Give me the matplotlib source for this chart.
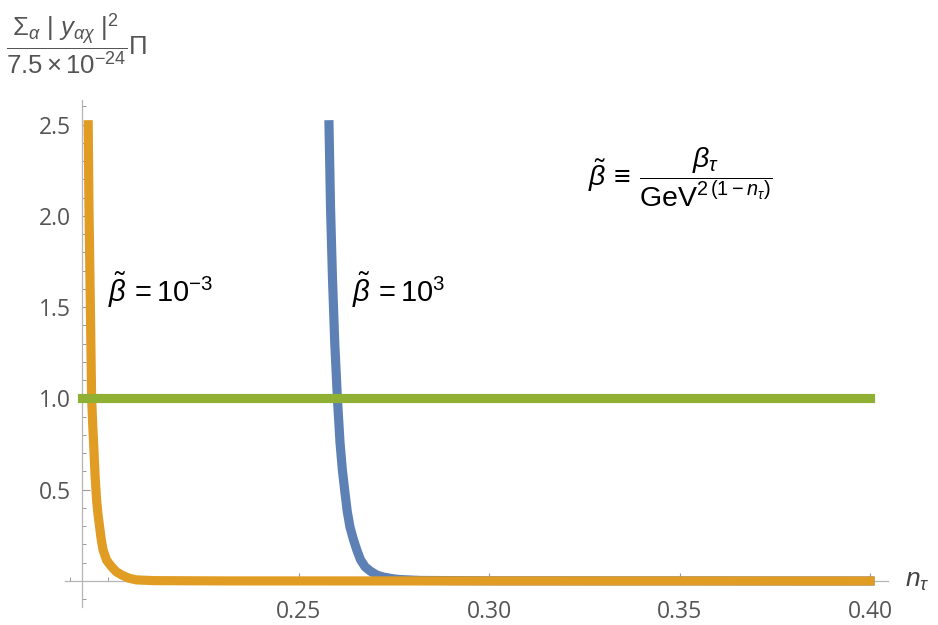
import numpy as np
import matplotlib
matplotlib.use('Agg')
import matplotlib.pyplot as plt

# values
n_blue = [0.2580, 0.2584, 0.2589, 0.2595, 0.2602, 0.2609, 0.2615, 0.2622, 0.2628, 0.2635,
          0.2644, 0.2653, 0.2663, 0.2675, 0.2688, 0.2705, 0.2722, 0.2748, 0.2766,
          0.2819, 0.3000, 0.4000]
y_blue = [2.50, 2.05, 1.667, 1.31, 1.003, 0.756, 0.610, 0.482, 0.380, 0.296,
          0.228, 0.170, 0.115, 0.077, 0.055, 0.033, 0.022, 0.012, 0.008,
          0.003, 0.001, 0.0]

n_orange = [0.1948, 0.1950, 0.1953, 0.1957, 0.1960, 0.1963, 0.1966, 0.1970, 0.1974, 0.1978,
            0.1982, 0.1987, 0.1996, 0.2003, 0.2010, 0.2022, 0.2036, 0.2055, 0.2075,
            0.2120, 0.2300, 0.4000]
y_orange = [2.50, 2.05, 1.60, 1.0, 0.85, 0.72, 0.58, 0.444, 0.36, 0.296,
            0.23, 0.170, 0.115, 0.095, 0.077, 0.050, 0.033, 0.015, 0.006,
            0.002, 0.0005, 0.0]

n_green = [0.1931, 0.4000]
y_green = [1.0, 1.0]

x_major = [0.25, 0.30, 0.35, 0.40]
x_labels = ['0.25', '0.30', '0.35', '0.40']
y_major = [0.5, 1.0, 1.5, 2.0, 2.5]
y_labels = ['0.5', '1.0', '1.5', '2.0', '2.5']

plt.rcParams['mathtext.fontset'] = 'custom'
plt.rcParams['mathtext.rm'] = 'Liberation Sans'
plt.rcParams['mathtext.it'] = 'Liberation Sans:italic'
plt.rcParams['font.family'] = ['Liberation Sans', 'DejaVu Sans']

fig = plt.figure(figsize=(9.38, 6.25), dpi=100)
ax = fig.add_axes([65 / 938, 18 / 625, 823 / 938, 507 / 625])

lw = 6.6
ax.plot(n_blue, y_blue, color='#5E81B5', lw=lw, solid_capstyle='projecting',
        solid_joinstyle='round', zorder=3, clip_on=False)
ax.plot(n_orange, y_orange, color='#E19C24', lw=lw, solid_capstyle='projecting',
        solid_joinstyle='round', zorder=4, clip_on=False)
ax.plot(n_green, y_green, color='#8FB032', lw=lw, solid_capstyle='projecting',
        zorder=5, clip_on=False)

ax.set_xlim(0.18871, 0.40472)
ax.set_ylim(-0.1425, 2.6356)

for s in ['top', 'right']:
    ax.spines[s].set_visible(False)
ax.spines['left'].set_position(('data', 0.1931))
ax.spines['bottom'].set_position(('data', 0.0))
for s in ['left', 'bottom']:
    ax.spines[s].set_color('#b5b5b5')
    ax.spines[s].set_linewidth(0.9)

ax.set_xticks(x_major)
ax.set_xticklabels(x_labels)
ax.set_xticks([v / 100 for v in range(19, 41) if v % 5 != 0 or v == 20], minor=True)
ax.set_yticks(y_major)
ax.set_yticklabels(y_labels)
ax.set_yticks([v / 10 for v in range(-1, 27) if v % 5 != 0], minor=True)

ax.tick_params(which='major', direction='in', length=6, width=0.8, color='#999999',
               labelsize=16.5, labelcolor='#555555', pad=14)
ax.tick_params(which='minor', direction='in', length=3.2, width=0.7, color='#999999')
for lab in ax.get_xticklabels() + ax.get_yticklabels():
    lab.set_family('Open Sans')
ax.tick_params(axis='y', pad=8)

ax.text(0.2000, 1.595, r'$\tilde{\beta}\,=10^{-3}$', fontsize=21, va='center', ha='left')
ax.text(0.2640, 1.595, r'$\tilde{\beta}\,=10^{3}$', fontsize=21, va='center', ha='left')
ax.text(0.3501, 2.214, r'$\tilde{\beta}\,\equiv\,\dfrac{\beta_\tau}{\mathrm{GeV}^{2\,(1-n_\tau)}}$',
        fontsize=20.5, va='center', ha='center')

fig.text(905 / 938, 1 - 581 / 625, r'$n_\tau$', fontsize=19, color='#444444',
         ha='left', va='center')
fig.text(6 / 938, 1 - 44 / 625,
         r'$\dfrac{\Sigma_\alpha\ |\ y_{\alpha\chi}\ |^2}{7.5\times10^{-24}}\Pi$',
         fontsize=18.5, color='#555555', ha='left', va='center')

fig.savefig('out.png', dpi=100, facecolor='white')
